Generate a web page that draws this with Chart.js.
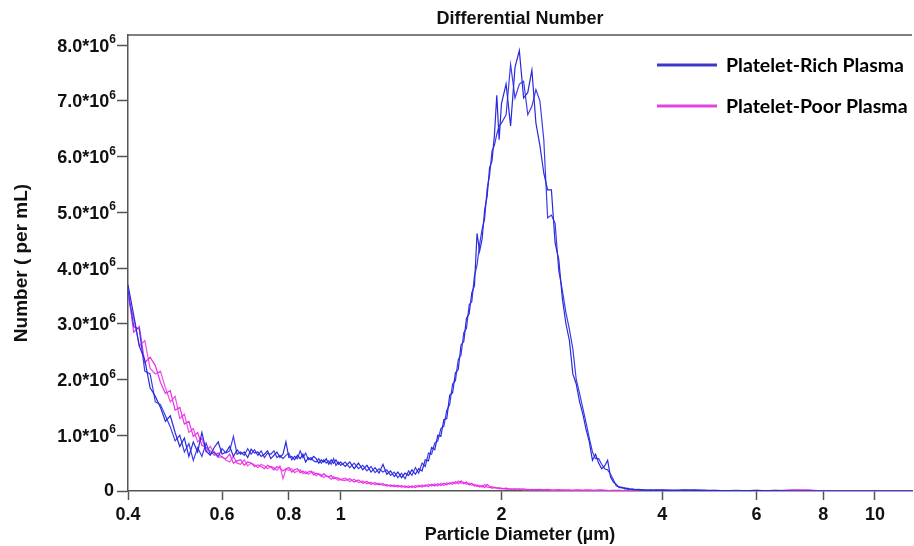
<!DOCTYPE html>
<html>
<head>
<meta charset="utf-8">
<script src="https://cdn.jsdelivr.net/npm/chart.js@4"></script>
<style>
html, body { margin: 0; padding: 0; background: #fff; }
canvas { display: block; }
</style>
</head>
<body>
<canvas id="chart" width="914" height="546"></canvas>
<script>
// particle diameter bins (µm)
const diameters = [
  0.40,0.41,0.42,0.43,0.44,0.45,0.46,0.47,0.48,0.49,
  0.50,0.51,0.52,0.53,0.54,0.55,0.56,0.57,0.58,0.59,
  0.60,0.61,0.62,0.63,0.64,0.65,0.66,0.67,0.68,0.69,
  0.70,0.71,0.72,0.73,0.74,0.75,0.76,0.77,0.78,0.79,
  0.80,0.81,0.82,0.83,0.84,0.85,0.86,0.87,0.88,0.89,
  0.90,0.91,0.92,0.93,0.94,0.95,0.96,0.97,0.98,0.99,
  1.00,
  1.02,1.04,1.06,1.08,1.10,1.12,1.14,1.16,1.18,1.20,
  1.22,1.24,1.26,1.28,1.30,1.32,1.34,1.36,1.38,1.40,
  1.42,1.44,1.46,1.48,1.50,1.52,1.54,1.56,1.58,1.60,
  1.62,1.64,1.66,1.68,1.70,1.72,1.74,1.76,1.78,1.80,
  1.82,1.84,1.86,1.88,1.90,1.92,1.94,1.96,1.98,2.00,
  2.04,2.08,2.12,2.16,2.20,2.24,2.28,2.32,2.36,2.40,
  2.44,2.48,2.52,2.56,2.60,2.64,2.68,2.72,2.76,2.80,
  2.84,2.88,2.92,2.96,3.00,3.04,3.08,3.12,3.16,3.20,
  3.24,3.28,3.32,3.36,3.40,3.44,3.48,3.52,3.56,3.60,
  3.7,3.8,3.9,4.0,4.2,4.4,4.6,4.8,5.0,5.5,
  6.0,6.5,7.0,7.5,8.0,9.0,10,11,11.7
];

// number per mL, in units of 10^6
const prpRun1 = [
  3.70,3.15,2.60,2.35,1.85,1.70,1.50,1.25,1.35,1.05,
  0.80,0.95,0.62,0.88,0.70,1.05,0.72,0.64,0.78,0.88,
  0.66,0.70,0.80,0.62,0.74,0.66,0.70,0.60,0.75,0.68,
  0.70,0.62,0.66,0.72,0.58,0.64,0.70,0.60,0.66,0.88,
  0.60,0.62,0.56,0.64,0.58,0.66,0.52,0.60,0.56,0.62,
  0.58,0.50,0.56,0.52,0.58,0.48,0.56,0.50,0.56,0.48,
  0.52,
  0.44,0.52,0.40,0.50,0.38,0.46,0.34,0.42,0.32,0.48,
  0.30,0.36,0.26,0.34,0.24,0.32,0.28,0.38,0.30,0.40,
  0.36,0.56,0.54,0.78,0.74,1.00,0.98,1.28,1.30,1.72,
  1.76,2.12,2.18,2.62,2.68,3.10,3.18,3.56,3.68,4.62,
  4.30,4.52,5.05,5.28,5.80,5.92,6.38,7.10,6.30,6.95,
  7.30,6.55,7.60,7.90,7.05,7.15,7.55,6.60,6.20,5.70,
  5.40,5.40,4.45,4.15,3.45,3.00,2.70,2.10,1.92,1.60,
  1.38,1.10,0.88,0.55,0.66,0.50,0.40,0.45,0.55,0.25,
  0.16,0.12,0.06,0.07,0.04,0.05,0.03,0.04,0.02,0.03,
  0.02,0.01,0.02,0.01,0.01,0.02,0.01,0.01,0.01,0.00,
  0.01,0.00,0.00,0.00,0.00,0.00,0.00,0.00,0.00
];

const prpRun2 = [
  3.60,2.95,2.90,2.15,2.10,1.60,1.55,1.35,1.15,0.90,
  1.00,0.70,0.85,0.55,0.78,0.62,0.86,0.66,0.70,0.62,
  0.76,0.68,0.72,0.98,0.66,0.70,0.64,0.76,0.66,0.74,
  0.64,0.72,0.60,0.68,0.66,0.72,0.60,0.64,0.58,0.64,
  0.68,0.56,0.62,0.58,0.72,0.60,0.68,0.56,0.60,0.54,
  0.52,0.58,0.50,0.56,0.50,0.54,0.48,0.58,0.46,0.52,
  0.46,
  0.52,0.42,0.50,0.40,0.46,0.36,0.44,0.33,0.40,0.34,
  0.38,0.28,0.34,0.24,0.32,0.22,0.36,0.28,0.42,0.32,
  0.50,0.44,0.68,0.66,0.86,0.90,1.12,1.16,1.45,1.55,
  1.92,1.98,2.36,2.44,2.84,2.92,3.34,3.40,3.86,4.05,
  4.42,4.70,4.88,5.42,5.66,6.10,6.20,6.40,6.55,6.60,
  6.75,7.65,7.05,7.30,7.35,6.75,6.90,7.20,7.00,6.30,
  4.90,4.95,4.80,3.95,3.60,3.20,2.90,2.55,2.00,1.75,
  1.48,1.22,0.95,0.70,0.58,0.58,0.48,0.40,0.38,0.30,
  0.20,0.09,0.08,0.05,0.06,0.03,0.04,0.02,0.03,0.02,
  0.01,0.02,0.01,0.02,0.01,0.01,0.02,0.01,0.00,0.01,
  0.00,0.01,0.00,0.00,0.00,0.00,0.00,0.00,0.00
];

const pppRun1 = [
  3.60,2.85,2.95,2.30,2.40,2.25,1.95,1.75,1.80,1.45,
  1.50,1.20,1.25,0.98,1.05,0.82,0.78,0.72,0.64,0.68,
  0.60,0.58,0.66,0.50,0.54,0.56,0.46,0.52,0.50,0.44,
  0.47,0.44,0.40,0.46,0.43,0.38,0.44,0.41,0.36,0.40,
  0.42,0.34,0.38,0.40,0.33,0.36,0.31,0.34,0.36,0.29,
  0.32,0.30,0.26,0.31,0.27,0.25,0.28,0.22,0.24,0.23,
  0.20,
  0.19,0.22,0.16,0.20,0.14,0.17,0.12,0.15,0.11,0.13,
  0.09,0.11,0.08,0.10,0.07,0.09,0.06,0.09,0.06,0.10,
  0.07,0.11,0.08,0.12,0.09,0.13,0.10,0.14,0.11,0.15,
  0.12,0.17,0.13,0.18,0.13,0.16,0.11,0.14,0.09,0.11,
  0.07,0.10,0.06,0.12,0.08,0.05,0.07,0.05,0.06,0.04,
  0.05,0.03,0.04,0.03,0.04,0.02,0.03,0.02,0.03,0.02,
  0.02,0.01,0.02,0.02,0.01,0.02,0.01,0.01,0.02,0.01,
  0.01,0.02,0.01,0.01,0.01,0.02,0.01,0.01,0.01,0.00,
  0.01,0.01,0.01,0.00,0.01,0.01,0.00,0.01,0.01,0.00,
  0.01,0.00,0.01,0.01,0.00,0.01,0.00,0.01,0.00,0.00,
  0.01,0.00,0.02,0.02,0.00,0.00,0.00,0.00,0.00
];

const pppRun2 = [
  3.45,3.10,2.60,2.70,2.20,2.10,2.15,1.85,1.60,1.70,
  1.30,1.38,1.05,1.12,0.88,0.95,0.70,0.80,0.68,0.60,
  0.62,0.55,0.52,0.62,0.50,0.48,0.56,0.45,0.50,0.47,
  0.42,0.48,0.45,0.40,0.44,0.42,0.37,0.45,0.22,0.39,
  0.37,0.40,0.33,0.36,0.38,0.31,0.35,0.30,0.33,0.34,
  0.27,0.31,0.29,0.24,0.28,0.25,0.21,0.26,0.22,0.19,
  0.21,
  0.23,0.17,0.21,0.15,0.18,0.13,0.16,0.11,0.14,0.10,
  0.12,0.08,0.11,0.07,0.10,0.06,0.09,0.06,0.10,0.07,
  0.11,0.08,0.12,0.09,0.13,0.09,0.14,0.10,0.15,0.12,
  0.16,0.13,0.18,0.14,0.16,0.12,0.14,0.10,0.12,0.08,
  0.10,0.07,0.12,0.07,0.06,0.08,0.05,0.06,0.04,0.05,
  0.03,0.04,0.03,0.04,0.02,0.03,0.02,0.03,0.02,0.02,
  0.03,0.02,0.01,0.02,0.02,0.01,0.02,0.01,0.01,0.02,
  0.01,0.01,0.02,0.01,0.01,0.01,0.02,0.01,0.00,0.01,
  0.01,0.00,0.01,0.01,0.00,0.01,0.01,0.00,0.01,0.01,
  0.00,0.01,0.00,0.01,0.01,0.00,0.01,0.00,0.01,0.00,
  0.00,0.01,0.01,0.00,0.00,0.00,0.00,0.00,0.00
];

const xTicks = [0.4, 0.6, 0.8, 1, 2, 4, 6, 8, 10];
const yTicks = [0, 1, 2, 3, 4, 5, 6, 7, 8];
const seriesNames = ["Platelet-Rich Plasma", "Platelet-Poor Plasma"];
const seriesColors = ["#3a3ac6", "#e244e2"];

const AXIS = "#555";
const FONT = "'Liberation Sans', Arial, sans-serif";

function points(ys) {
  return diameters.map((d, i) => ({ x: d, y: ys[i] }));
}

function line(ys, color) {
  return {
    data: points(ys),
    borderColor: color,
    borderWidth: 1.2,
    pointRadius: 0,
    tension: 0,
    fill: false
  };
}

// title, legend, top frame line and y labels with superscript
const decor = {
  id: "decor",
  afterDraw(chart) {
    const ctx = chart.ctx;
    const a = chart.chartArea;
    ctx.save();
    ctx.strokeStyle = AXIS;
    ctx.lineWidth = 1.5;
    ctx.beginPath();
    ctx.moveTo(a.left, a.top);
    ctx.lineTo(a.right, a.top);
    ctx.stroke();

    ctx.fillStyle = "#111";
    ctx.font = "bold 18px " + FONT;
    ctx.textAlign = "center";
    ctx.textBaseline = "middle";
    ctx.fillText("Differential Number", (a.left + a.right) / 2, 19);

    // y tick labels, "n.0*10" with a raised 6
    const ys = chart.scales.y;
    const right = 116;
    ctx.textAlign = "right";
    ys.ticks.forEach(t => {
      const py = ys.getPixelForValue(t.value);
      if (t.value === 0) {
        ctx.font = "bold 18px " + FONT;
        ctx.textBaseline = "middle";
        ctx.fillText("0", right - 2, py);
        return;
      }
      ctx.textBaseline = "alphabetic";
      ctx.font = "bold 12px " + FONT;
      const sw = ctx.measureText("6").width;
      ctx.fillText("6", right, py - 2);
      ctx.font = "bold 18px " + FONT;
      ctx.fillText(t.value.toFixed(1) + "*10", right - sw, py + 6.5);
    });

    const rows = [65, 106];
    ctx.textAlign = "left";
    ctx.textBaseline = "middle";
    ctx.font = "bold 19.5px Lato, 'Open Sans', sans-serif";
    rows.forEach((y, i) => {
      ctx.strokeStyle = seriesColors[i];
      ctx.lineWidth = 3;
      ctx.beginPath();
      ctx.moveTo(657, y);
      ctx.lineTo(717, y);
      ctx.stroke();
      ctx.fillStyle = "#000";
      ctx.fillText(seriesNames[i], 726, y + 1);
    });
    ctx.restore();
  }
};

new Chart(document.getElementById("chart"), {
  type: "line",
  data: {
    datasets: [
      line(prpRun1, "#2a2ad8"),
      line(prpRun2, "#3c3ce8"),
      line(pppRun1, "#e62ee6"),
      line(pppRun2, "#f04ce8")
    ]
  },
  options: {
    responsive: false,
    animation: false,
    layout: { padding: { left: 0, top: 35, right: 2, bottom: 0 } },
    plugins: {
      legend: { display: false },
      title: { display: false },
      tooltip: { enabled: false }
    },
    scales: {
      x: {
        type: "logarithmic",
        min: 0.4,
        max: 11.73,
        afterBuildTicks: s => { s.ticks = xTicks.map(v => ({ value: v })); },
        afterFit: s => { s.height = 55; },
        ticks: {
          autoSkip: false,
          maxRotation: 0,
          padding: 4,
          color: "#111",
          font: { family: FONT, size: 18, weight: "bold" },
          callback: v => String(v)
        },
        grid: { drawOnChartArea: false, tickLength: 9, tickColor: AXIS, tickWidth: 1.5 },
        border: { color: AXIS, width: 1.5 },
        title: {
          display: true,
          text: "Particle Diameter (µm)",
          color: "#111",
          font: { family: FONT, size: 18, weight: "bold" },
          padding: { top: 0, bottom: 0 }
        }
      },
      y: {
        type: "linear",
        min: 0,
        max: 8.18,
        afterBuildTicks: s => { s.ticks = yTicks.map(v => ({ value: v })); },
        afterFit: s => { s.width = 128; },
        ticks: { display: false },
        grid: { drawOnChartArea: false, tickLength: 11, tickColor: AXIS, tickWidth: 1.5 },
        border: { color: AXIS, width: 1.5 },
        title: {
          display: true,
          text: "Number ( per mL)",
          color: "#111",
          font: { family: FONT, size: 19, weight: "bold" },
          padding: { top: 10, bottom: 0 }
        }
      }
    }
  },
  plugins: [decor]
});
</script>
</body>
</html>
